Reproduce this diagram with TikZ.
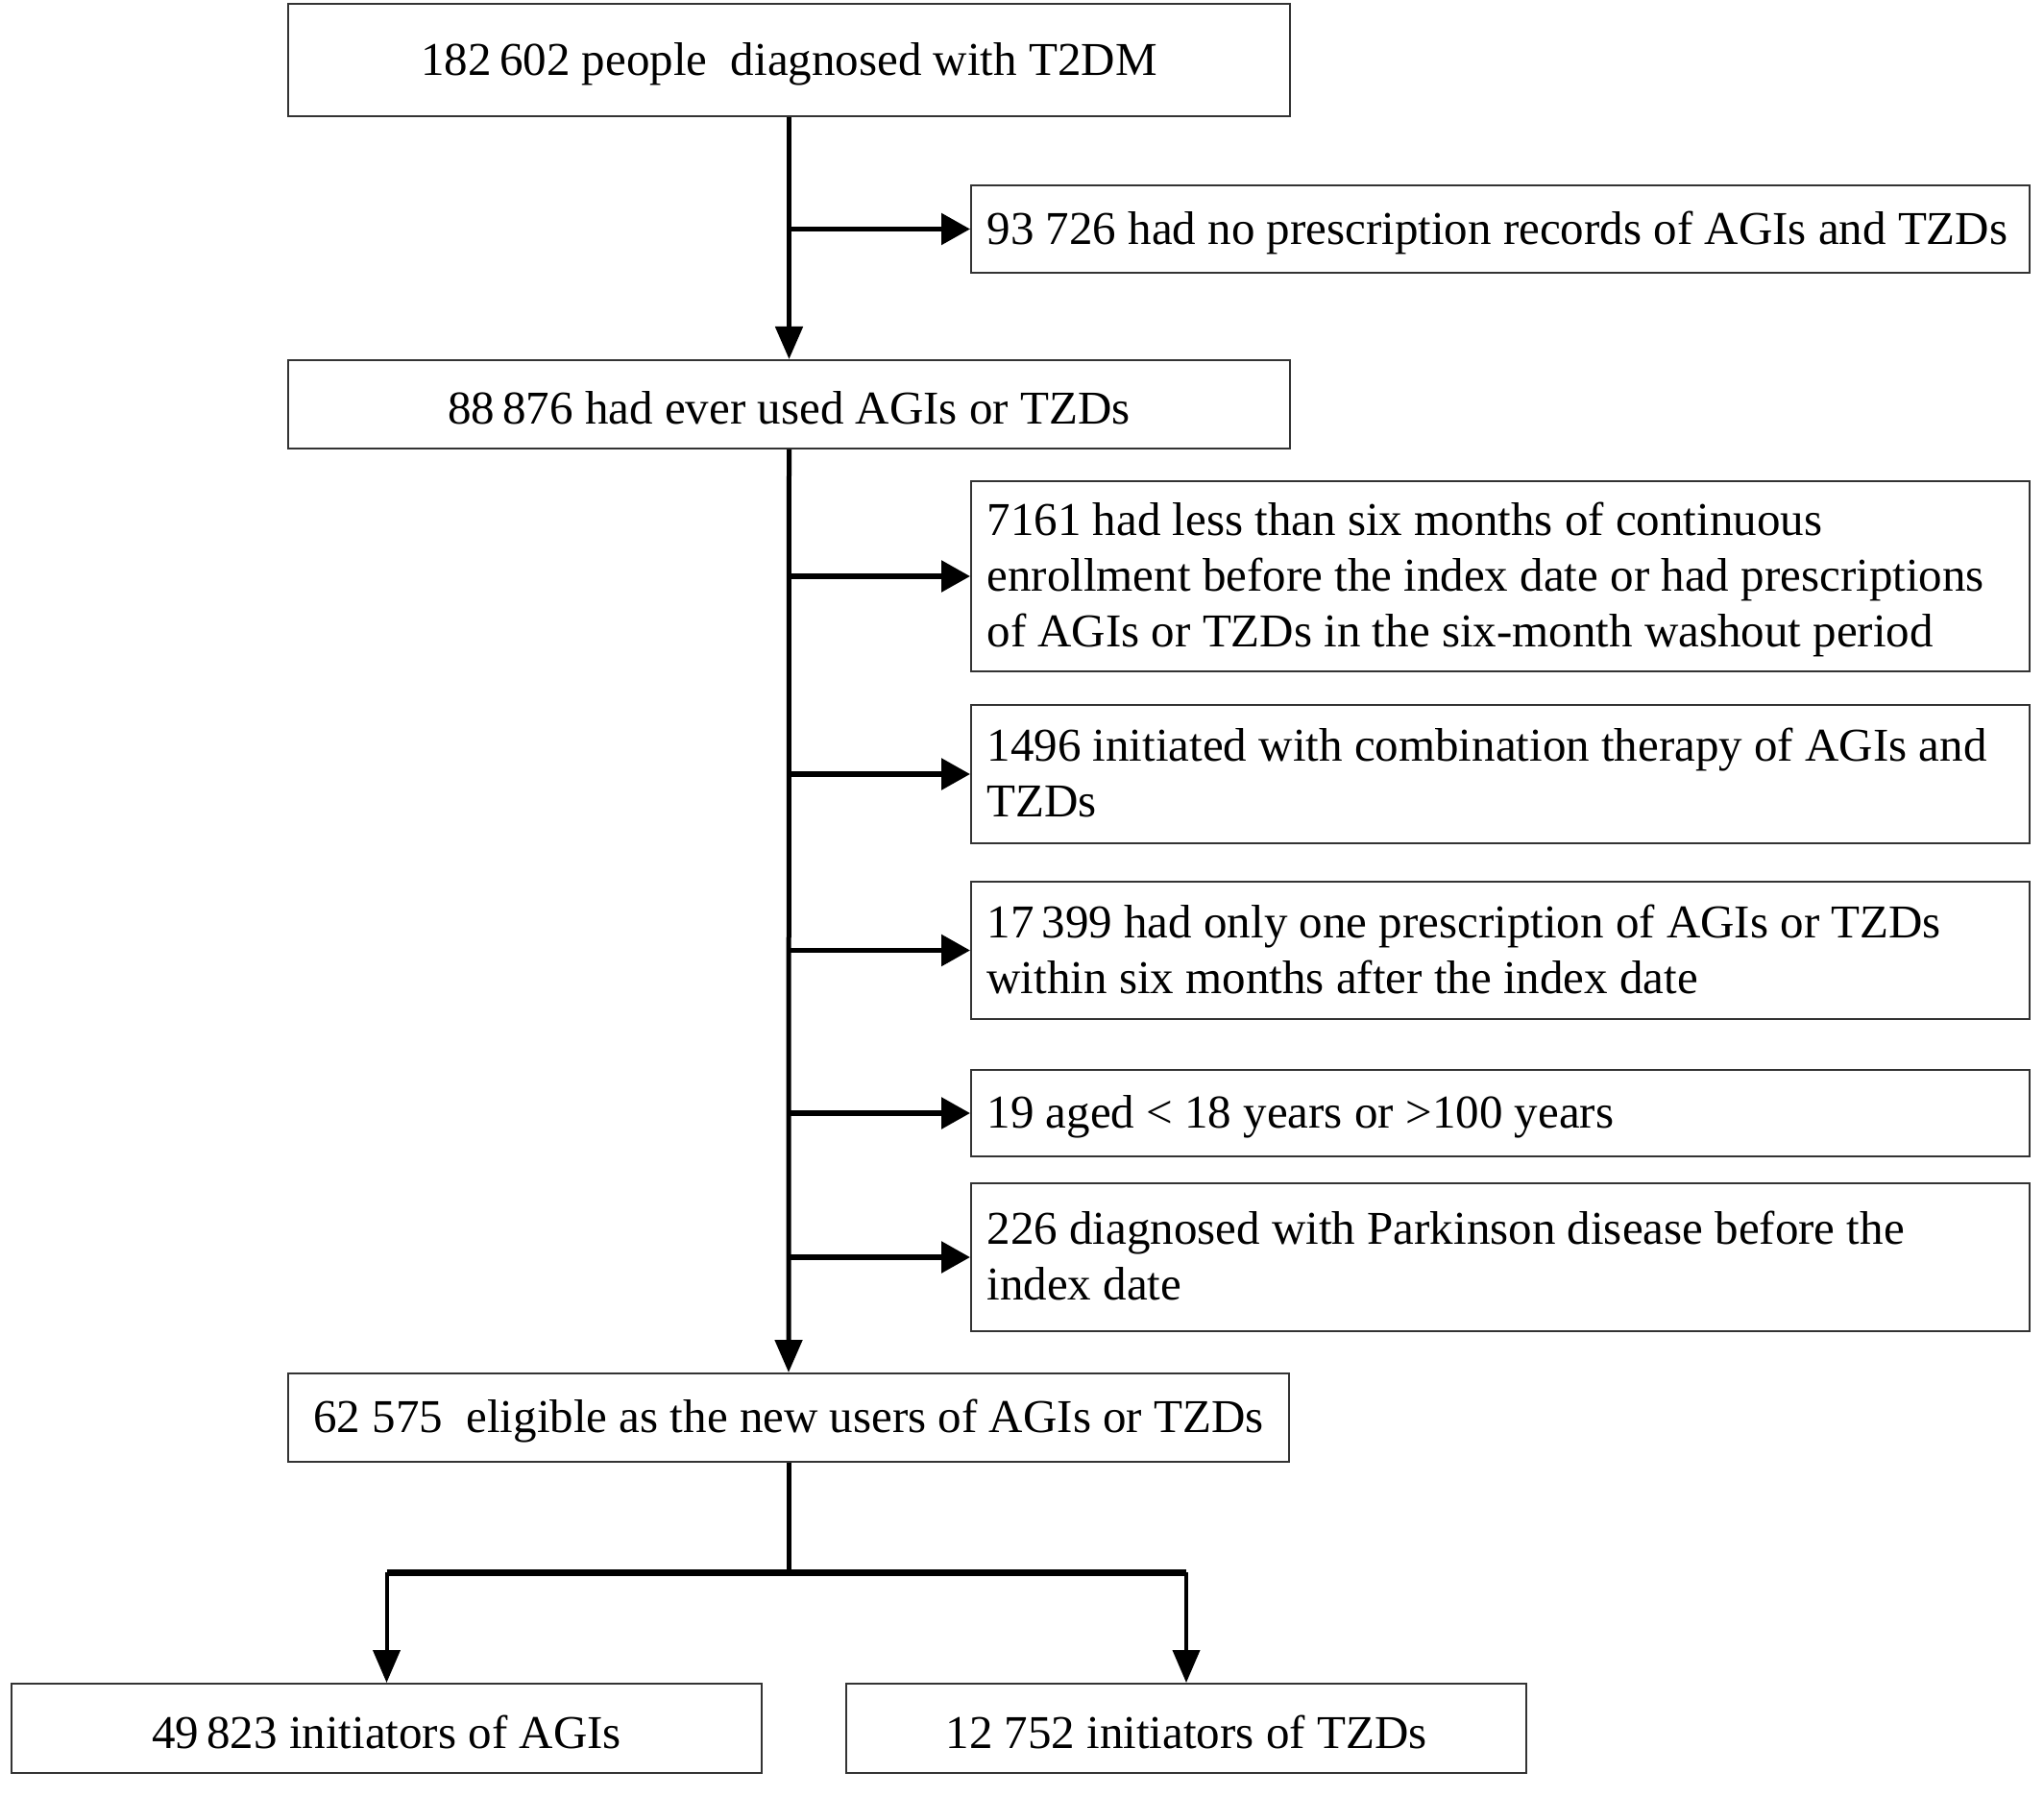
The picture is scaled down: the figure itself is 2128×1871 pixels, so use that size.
\documentclass[tikz,border=0pt]{standalone}
\usepackage{fontspec}
\setmainfont{Liberation Serif}
\usetikzlibrary{arrows.meta}
\newcommand{\lowr}[1]{\raisebox{-2pt}[\height][\depth]{#1}}
\newcommand{\rtext}[1]{\makebox[534.5pt][l]{\lowr{\begin{tabular}{@{}l@{}}#1\end{tabular}}}}
\begin{document}
\begin{tikzpicture}[x=0.5pt,y=-0.5pt,
  box/.style={draw=black!80,line width=1pt,inner sep=0pt,
    font=\fontsize{24.5}{29}\selectfont,align=center},
  rbox/.style={draw=black!80,line width=1pt,inner xsep=8pt,inner ysep=0pt,
    minimum width=551pt,font=\fontsize{24.5}{29}\selectfont},
  harrow/.style={line width=2.8pt,-{Triangle[length=15pt,width=16pt]}},
  varrow/.style={line width=2.5pt,-{Triangle[length=17pt,width=14pt]}},
  spine/.style={line width=2.5pt},
  barrow/.style={line width=2pt,-{Triangle[length=17pt,width=14pt]}},
  bar/.style={line width=3.5pt}]
\useasboundingbox (0,0) rectangle (2128,1871);
\node[box,minimum width=521.5pt,minimum height=58.5pt] (top) at (821.5,62.5) {\lowr{182\,602 people\ \ diagnosed with T2DM}};
\node[rbox,minimum height=45.5pt] (r1) at (1562,238.5) {\rtext{93 726 had no prescription records of AGIs and TZDs}};
\node[box,minimum width=521.5pt,minimum height=46pt] (b2) at (821.5,421) {\lowr{88\,876 had ever used AGIs or TZDs}};
\node[rbox,minimum height=99pt] (r2) at (1562,600) {\rtext{7161 had less than six months of continuous\\enrollment before the index date or had prescriptions\\of AGIs or TZDs in the six-month washout period}};
\node[rbox,minimum height=72pt] (r3) at (1562,806) {\rtext{1496 initiated with combination therapy of AGIs and\\TZDs}};
\node[rbox,minimum height=71.5pt] (r4) at (1562,989.5) {\rtext{17\,399 had only one prescription of AGIs or TZDs\\within six months after the index date}};
\node[rbox,minimum height=45pt] (r5) at (1562,1159) {\rtext{19 aged < 18 years or >100 years}};
\node[rbox,minimum height=77pt] (r6) at (1562,1309) {\rtext{226 diagnosed with Parkinson disease before the\\index date}};
\node[box,minimum width=521pt,minimum height=46pt] (b8) at (821,1476) {\lowr{62 575\ \ eligible as the new users of AGIs or TZDs}};
\node[box,minimum width=390.5pt,minimum height=46.5pt] (bl) at (402.5,1799.5) {\lowr{49\,823 initiators of AGIs}};
\node[box,minimum width=354pt,minimum height=46.5pt] (br) at (1235,1799.5) {\lowr{12 752 initiators of TZDs}};
\coordinate (split) at (821,1637);
% first stage
\draw[varrow] (top.south) -- (b2.north);
\draw[harrow] (top.south |- r1.west) -- (r1.west);
% second stage
\draw[varrow] (b2.south) -- (b8.north);
\foreach \n in {r2,r3,r4,r5,r6}{
  \draw[harrow] (b2.south |- \n.west) -- (\n.west);
}
% split
\draw[spine] (b8.south) -- (split);
\draw[bar] (bl.north |- split) -- (br.north |- split);
\draw[barrow] (bl.north |- split) -- (bl.north);
\draw[barrow] (br.north |- split) -- (br.north);
\end{tikzpicture}
\end{document}
